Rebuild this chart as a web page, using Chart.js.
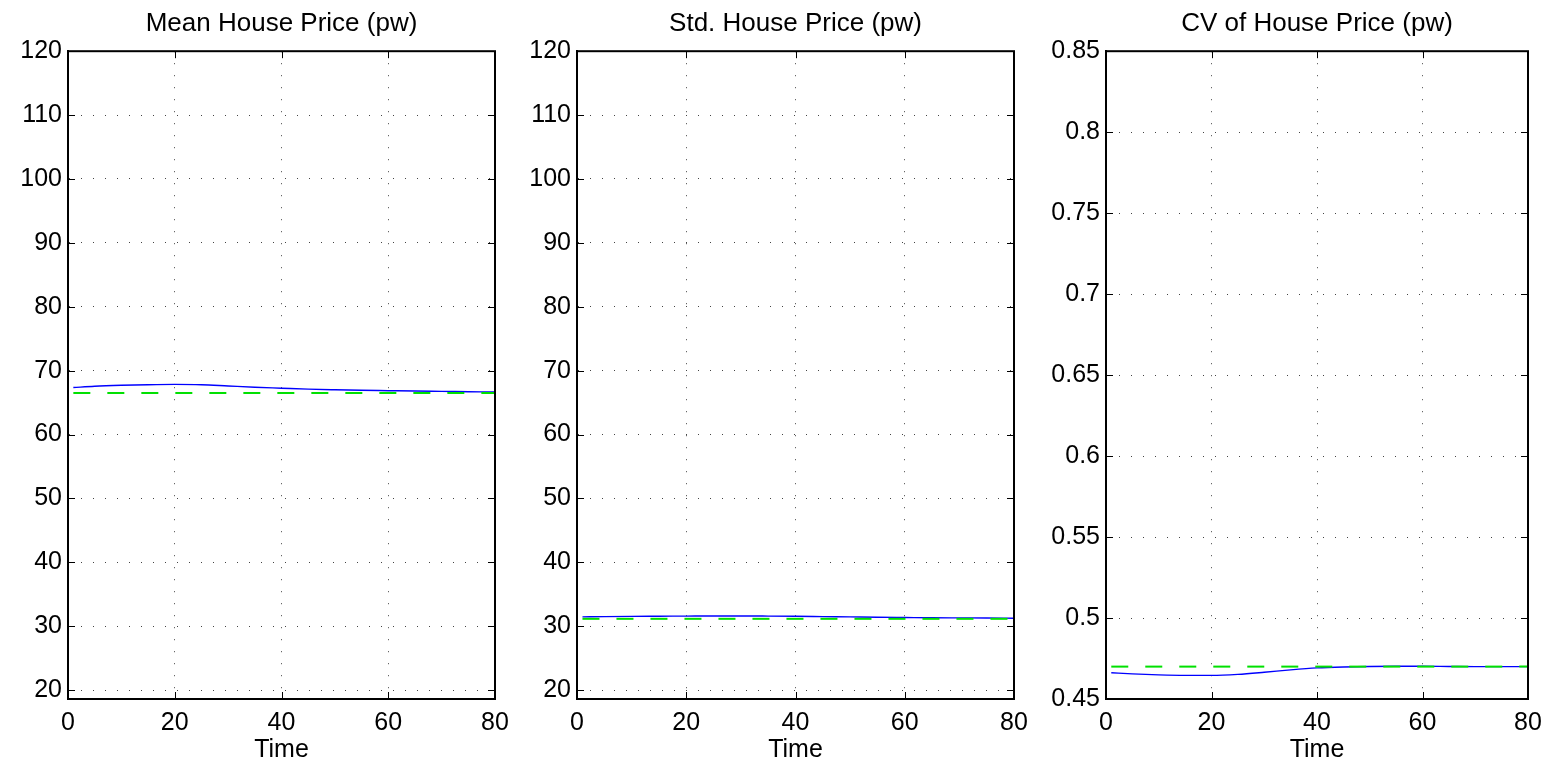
<!DOCTYPE html>
<html>
<head>
<meta charset="utf-8">
<script src="https://cdn.jsdelivr.net/npm/chart.js@4/dist/chart.umd.min.js"></script>
<style>
  html, body { margin: 0; padding: 0; background: #fff; }
  #wrap { position: relative; width: 1553px; height: 762px; overflow: hidden; }
  canvas { position: absolute; top: 0; }
</style>
</head>
<body>
<div id="wrap">
  <canvas id="meanChart" width="520" height="762" style="left:0px"></canvas>
  <canvas id="stdChart" width="520" height="762" style="left:520px"></canvas>
  <canvas id="cvChart" width="513" height="762" style="left:1040px"></canvas>
</div>
<script>
// simulated path, sampled every few periods
var timePoints = [1, 5, 10, 15, 20, 25, 30, 35, 40, 45, 50, 55, 60, 65, 70, 75, 80];
var meanPrice = [67.35, 67.55, 67.7, 67.8, 67.85, 67.8, 67.6, 67.4, 67.25, 67.1, 67.0, 66.92, 66.86, 66.8, 66.75, 66.7, 66.65];
var stdPrice = [31.45, 31.5, 31.54, 31.56, 31.58, 31.6, 31.6, 31.58, 31.55, 31.5, 31.45, 31.4, 31.36, 31.32, 31.3, 31.28, 31.25];
var cvPrice = [0.4662, 0.4655, 0.4649, 0.4646, 0.4646, 0.4652, 0.4665, 0.468, 0.4692, 0.4698, 0.4701, 0.4702, 0.4702, 0.4701, 0.47, 0.47, 0.47];

// steady state reference lines
var steadyTimes = [1, 80];
var meanSteady = [66.5, 66.5];
var stdSteady = [31.15, 31.15];
var cvSteady = [0.47, 0.47];

var timeTicks = [0, 80, 20];
var FONT = "'Liberation Sans', Arial, Helvetica, sans-serif";

function pts(xs, ys) {
    return xs.map(function (x, i) { return { x: x, y: ys[i] }; });
}

// MATLAB style box + inward ticks
var boxPlugin = {
    id: "box",
    afterDraw: function (chart) {
        var ctx = chart.ctx, a = chart.chartArea;
        var xs = chart.scales.x, ys = chart.scales.y;
        var len = 7;
        ctx.save();
        ctx.strokeStyle = "#000";
        ctx.lineWidth = 1;
        ctx.beginPath();
        xs.ticks.forEach(function (t) {
            var px = Math.round(xs.getPixelForValue(t.value)) + 0.5;
            ctx.moveTo(px, a.bottom); ctx.lineTo(px, a.bottom - len);
            ctx.moveTo(px, a.top); ctx.lineTo(px, a.top + len);
        });
        ys.ticks.forEach(function (t) {
            var py = Math.round(ys.getPixelForValue(t.value)) + 0.5;
            ctx.moveTo(a.left, py); ctx.lineTo(a.left + len, py);
            ctx.moveTo(a.right, py); ctx.lineTo(a.right - len, py);
        });
        ctx.stroke();
        ctx.lineWidth = 2;
        ctx.strokeRect(a.left, a.top, a.right - a.left, a.bottom - a.top);
        ctx.restore();
    }
};

function makeChart(id, title, sim, steady, yMin, yMax, yStep, leftW, rightPad, fmt) {
    return new Chart(document.getElementById(id), {
        type: "line",
        data: {
            datasets: [
                {
                    data: pts(steadyTimes, steady),
                    borderColor: "#00e000",
                    borderWidth: 2,
                    borderDash: [17, 17],
                    pointRadius: 0,
                    fill: false,
                    order: 1
                },
                {
                    data: pts(timePoints, sim),
                    borderColor: "#0000ff",
                    borderWidth: 1.4,
                    pointRadius: 0,
                    cubicInterpolationMode: "monotone",
                    fill: false,
                    order: 2
                }
            ]
        },
        options: {
            responsive: false,
            animation: false,
            devicePixelRatio: 1,
            layout: { padding: { left: 0, right: rightPad, top: 0, bottom: 0 } },
            plugins: {
                legend: { display: false },
                tooltip: { enabled: false },
                title: {
                    display: true,
                    text: title,
                    color: "#000",
                    fullSize: false,
                    font: { family: FONT, size: 26, weight: "normal" },
                    padding: { top: 8, bottom: 12 }
                }
            },
            scales: {
                x: {
                    type: "linear",
                    min: timeTicks[0],
                    max: timeTicks[1],
                    ticks: { stepSize: timeTicks[2], color: "#000", padding: 9, font: { family: FONT, size: 25 } },
                    grid: { color: "#444", lineWidth: 1, drawTicks: false },
                    border: { display: true, color: "#000", width: 2, dash: [1, 11] },
                    title: { display: true, text: "Time", color: "#000", padding: { top: 0, bottom: -3 }, font: { family: FONT, size: 25 } },
                    afterFit: function (s) { s.height = 63; }
                },
                y: {
                    min: yMin,
                    max: yMax,
                    ticks: {
                        stepSize: yStep,
                        includeBounds: false,
                        color: "#000",
                        padding: 6,
                        font: { family: FONT, size: 25 },
                        callback: fmt
                    },
                    grid: { color: "#444", lineWidth: 1, drawTicks: false },
                    border: { display: true, color: "#000", width: 2, dash: [1, 11] },
                    afterFit: function (s) { s.width = leftW; }
                }
            }
        },
        plugins: [boxPlugin]
    });
}

function intFmt(v) { return String(Math.round(v)); }
function decFmt(v) { return String(+v.toFixed(2)); }

makeChart("meanChart", "Mean House Price (pw)", meanPrice, meanSteady, 18.6, 120, 10, 68, 25, intFmt);
makeChart("stdChart", "Std. House Price (pw)", stdPrice, stdSteady, 18.6, 120, 10, 57, 26, intFmt);
makeChart("cvChart", "CV of House Price (pw)", cvPrice, cvSteady, 0.45, 0.85, 0.05, 66, 25, decFmt);
</script>
</body>
</html>
